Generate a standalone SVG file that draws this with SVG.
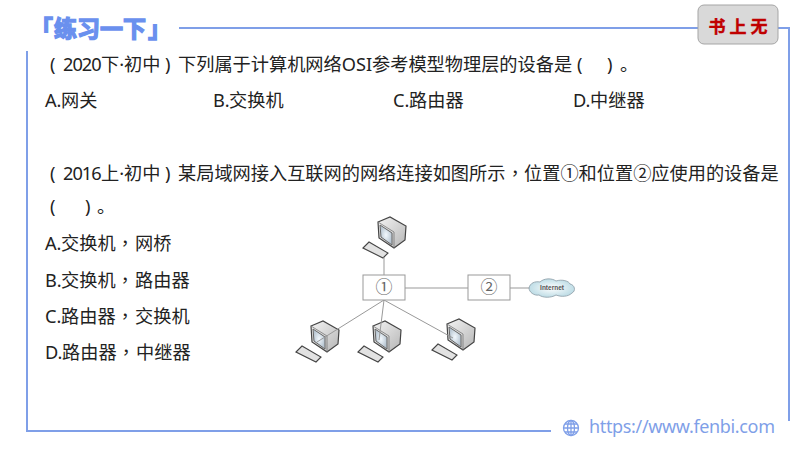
<svg xmlns="http://www.w3.org/2000/svg" width="800" height="450" viewBox="0 0 800 450">
<style>
text{font-family:"Noto Sans","Noto Sans CJK SC",sans-serif}
.t{font-size:18.2px;fill:#222}
.k{font-family:"Noto Sans CJK TC",sans-serif}
.y{letter-spacing:-1px}
.f{fill:none;stroke:#7f9fe8;stroke-width:2}
.c{fill:none;stroke:#999;stroke-width:1}
.b{fill:#fff;stroke:#999;stroke-width:1}
.n{font-size:17px;fill:#666;text-anchor:middle}
</style>
<defs>
<linearGradient id="g" x1="0" y1="0" x2="1" y2="1"><stop offset="0" stop-color="#f4f4f4"/><stop offset="1" stop-color="#b5b5b5"/></linearGradient>
<radialGradient id="s"><stop offset="0" stop-color="#f2f8fd"/><stop offset="1" stop-color="#b8c6d2"/></radialGradient>
<radialGradient id="cl"><stop offset="0" stop-color="#fff"/><stop offset="1" stop-color="#bfdde6"/></radialGradient>
<g id="pc">
<path d="M378 222L390 217L406 226L405 240L394 248L379 238Z" fill="url(#g)" stroke="#444" stroke-width="1.2"/>
<path d="M378 222L394 232L394 248" fill="none" stroke="#777" stroke-width=".8"/>
<path d="M380 225L392 233L392 245L381 237Z" fill="url(#s)" stroke="#666" stroke-width="1"/>
<path d="M363 248L369 242L388 253L383 258Z" fill="#e2e2e2" stroke="#444" stroke-width="1.1"/>
</g>
</defs>
<rect width="800" height="450" fill="#fff"/>
<g id="frame">
<path class="f" d="M27 51V431H551"/>
<path class="f" d="M179 28H698"/>
<path class="f" d="M778 28H789V421"/>
</g>
<text id="title" y="37" font-size="23" font-weight="700" fill="#6a90ee" stroke="#6a90ee" stroke-width="1.4"><tspan x="30">「</tspan><tspan x="54">练习一下</tspan><tspan x="148">」</tspan></text>
<g id="badge">
<rect x="698" y="5" width="80" height="39" rx="6" fill="#d9d9d9" stroke="#a5a5a5"/>
<text x="740" y="33" font-size="17" font-weight="700" fill="#c00000" stroke="#c00000" stroke-width=".4" text-anchor="middle" letter-spacing="4" style="font-family:'Noto Sans CJK SC',sans-serif">书上无</text>
</g>
<g id="q1">
<text class="t" y="71"><tspan x="50">(</tspan><tspan class="y" x="63">2020</tspan><tspan x="101">下·初中</tspan><tspan x="165">)</tspan><tspan x="178">下列属于计算机网络OSI参考模型物理层的设备是</tspan><tspan x="577">(</tspan><tspan x="607">)</tspan><tspan x="620">。</tspan></text>
<text class="t" y="107"><tspan x="45">A.</tspan><tspan x="61">网关</tspan><tspan x="213">B.</tspan><tspan x="229">交换机</tspan><tspan x="393">C.</tspan><tspan x="409">路由器</tspan><tspan x="573">D.</tspan><tspan x="590">中继器</tspan></text>
</g>
<g id="q2">
<text class="t" y="180"><tspan x="50">(</tspan><tspan class="y" x="63">2016</tspan><tspan x="101">上·初中</tspan><tspan x="165">)</tspan><tspan x="178">某局域网接入互联网的网络连接如图所示</tspan><tspan class="k" x="506">，</tspan><tspan x="524">位置①和位置②应使用的设备是</tspan></text>
<text class="t" y="213"><tspan x="50">(</tspan><tspan x="85">)</tspan><tspan x="97">。</tspan></text>
<text class="t" y="250"><tspan x="45">A.</tspan><tspan x="61">交换机</tspan><tspan class="k" x="116">，</tspan><tspan x="135">网桥</tspan></text>
<text class="t" y="287"><tspan x="45">B.</tspan><tspan x="61">交换机</tspan><tspan class="k" x="116">，</tspan><tspan x="135">路由器</tspan></text>
<text class="t" y="323"><tspan x="45">C.</tspan><tspan x="61">路由器</tspan><tspan class="k" x="116">，</tspan><tspan x="135">交换机</tspan></text>
<text class="t" y="359"><tspan x="45">D.</tspan><tspan x="62">路由器</tspan><tspan class="k" x="117">，</tspan><tspan x="136">中继器</tspan></text>
</g>
<g id="pc-top"><use href="#pc"/></g>
<g id="pc-left"><use href="#pc" x="-67" y="104"/></g>
<g id="pc-mid"><use href="#pc" x="-5" y="104"/></g>
<g id="pc-right"><use href="#pc" x="69" y="102"/></g>
<g id="connectors">
<path class="c" d="M384 257V275"/>
<path class="c" d="M405 288H468"/>
<path class="c" d="M510 288H530"/>
<path class="c" d="M384 300L317 342"/>
<path class="c" d="M384 300L379 340"/>
<path class="c" d="M384 300L453 338"/>
</g>
<g id="node1"><rect class="b" x="363" y="275" width="42" height="25"/><text class="n" x="384" y="293">①</text></g>
<g id="node2"><rect class="b" x="468" y="275" width="42" height="25"/><text class="n" x="489" y="293">②</text></g>
<g id="cloud">
<path d="M529 288C530 283 535 281 540 282C544 278 552 278 556 281C562 279 569 281 570 284C575 285 576 291 572 293C568 297 561 297 556 295C551 298 543 298 539 295C534 296 529 292 529 288Z" fill="url(#cl)" stroke="#8a9aa5" stroke-width=".8"/>
<text x="552" y="290" font-size="6.500" font-weight="700" fill="#555" text-anchor="middle" style="font-family:'Liberation Sans',sans-serif">Internet</text>
</g>
<g id="footer">
<g fill="none" stroke="#7f9fe8" stroke-width="1.3">
<circle cx="571" cy="428" r="7.500"/><ellipse cx="571" cy="428" rx="3.500" ry="7.500"/><path d="M571 420.500V435.500M563.500 428H578.500M565 424H577M565 432H577"/>
</g>
<text x="589" y="433" font-size="18" fill="#7f9fe8" textLength="186">https://www.fenbi.com</text>
</g>
</svg>
